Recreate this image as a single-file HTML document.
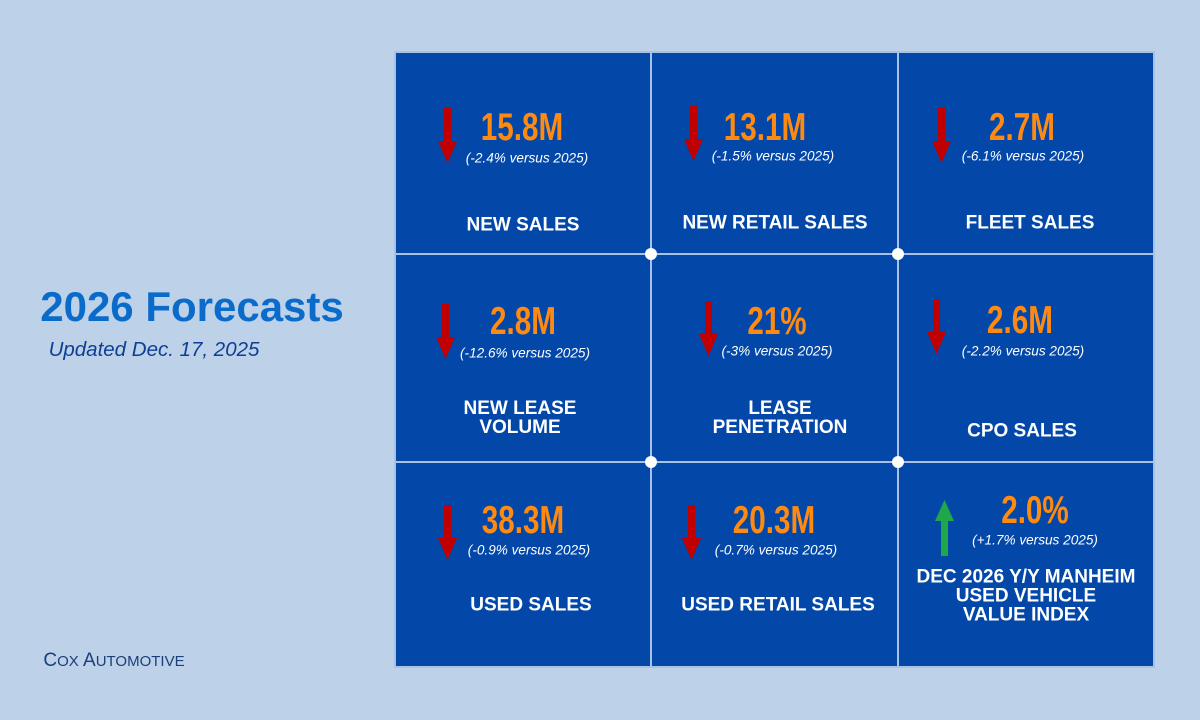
<!DOCTYPE html>
<html><head><meta charset="utf-8"><style>
body{margin:0;width:1200px;height:720px;background:#bdd1e8;position:relative;overflow:hidden;font-family:"Liberation Sans",Arial,sans-serif}
.panel{position:absolute;left:395px;top:52px;width:759px;height:615px;background:#0348a9}
.c{position:absolute;transform:translate(-50%,-50%);white-space:nowrap;text-align:center}
.n{color:#ff8a12;font-weight:bold;font-size:39px;transform:translate(-50%,-50%) scaleX(.76)}
.s{color:#fff;font-style:italic;font-size:13.6px}
.l{color:#fff;font-weight:bold;font-size:19px;line-height:19px}
svg{position:absolute;left:0;top:0}
</style></head><body>
<div class="panel"></div>
<svg width="1200" height="720">
<g stroke="#a9c1e4" stroke-width="2">
<line x1="651" y1="52" x2="651" y2="667"/><line x1="898" y1="52" x2="898" y2="667"/>
<line x1="395" y1="254" x2="1154" y2="254"/><line x1="395" y1="462" x2="1154" y2="462"/>
<rect x="395" y="52" width="759" height="615" fill="none"/>
</g>
<g fill="#fff"><circle cx="651" cy="254" r="6"/><circle cx="898" cy="254" r="6"/><circle cx="651" cy="462" r="6"/><circle cx="898" cy="462" r="6"/></g>
<g fill="#c00000">
<polygon points="444,108 451,108 451,141 457,141 447.5,163 438,141 444,141"/>
<polygon points="690,106 697,106 697,139 703,139 693.5,161 684,139 690,139"/>
<polygon points="938,108 945,108 945,141 951,141 941.5,163 932,141 938,141"/>
<polygon points="442,304 449,304 449,337 455,337 445.5,359 436,337 442,337"/>
<polygon points="705,301 712,301 712,334 718,334 708.5,356 699,334 705,334"/>
<polygon points="933,299 940,299 940,332 946,332 936.5,354 927,332 933,332"/>
<polygon points="444,505 451,505 451,538 457,538 447.5,560 438,538 444,538"/>
<polygon points="688,505 695,505 695,538 701,538 691.5,560 682,538 688,538"/>
</g>
<polygon fill="#1fa84a" points="941,556 948,556 948,521 954,521 944.5,500 935,521 941,521"/>
</svg>
<div class="c" style="left:192px;top:307px;color:#0b6bcb;font-weight:bold;font-size:42px">2026 Forecasts</div>
<div class="c" style="left:154px;top:350px;color:#0e3f95;font-style:italic;font-size:20.5px">Updated Dec. 17, 2025</div>
<div class="c" style="left:114px;top:661px;color:#1a3f7a;font-family:'Liberation Sans',sans-serif;font-size:19px">C<span style="font-size:15px">OX</span> A<span style="font-size:15px">UTOMOTIVE</span></div>

<div class="c n" style="left:522px;top:128px">15.8M</div>
<div class="c s" style="left:527px;top:158px">(-2.4% versus 2025)</div>
<div class="c l" style="left:523px;top:225px">NEW SALES</div>

<div class="c n" style="left:765px;top:128px">13.1M</div>
<div class="c s" style="left:773px;top:156px">(-1.5% versus 2025)</div>
<div class="c l" style="left:775px;top:223px">NEW RETAIL SALES</div>

<div class="c n" style="left:1022px;top:128px">2.7M</div>
<div class="c s" style="left:1023px;top:156px">(-6.1% versus 2025)</div>
<div class="c l" style="left:1030px;top:223px">FLEET SALES</div>

<div class="c n" style="left:523px;top:322px">2.8M</div>
<div class="c s" style="left:525px;top:353px">(-12.6% versus 2025)</div>
<div class="c l" style="left:520px;top:418px">NEW LEASE<br>VOLUME</div>

<div class="c n" style="left:777px;top:322px">21%</div>
<div class="c s" style="left:777px;top:351px">(-3% versus 2025)</div>
<div class="c l" style="left:780px;top:418px">LEASE<br>PENETRATION</div>

<div class="c n" style="left:1020px;top:321px">2.6M</div>
<div class="c s" style="left:1023px;top:351px">(-2.2% versus 2025)</div>
<div class="c l" style="left:1022px;top:431px">CPO SALES</div>

<div class="c n" style="left:523px;top:521px">38.3M</div>
<div class="c s" style="left:529px;top:550px">(-0.9% versus 2025)</div>
<div class="c l" style="left:531px;top:605px">USED SALES</div>

<div class="c n" style="left:774px;top:521px">20.3M</div>
<div class="c s" style="left:776px;top:550px">(-0.7% versus 2025)</div>
<div class="c l" style="left:778px;top:605px">USED RETAIL SALES</div>

<div class="c n" style="left:1035px;top:511px">2.0%</div>
<div class="c s" style="left:1035px;top:540px">(+1.7% versus 2025)</div>
<div class="c l" style="left:1026px;top:596px">DEC 2026 Y/Y MANHEIM<br>USED VEHICLE<br>VALUE INDEX</div>
</body></html>
